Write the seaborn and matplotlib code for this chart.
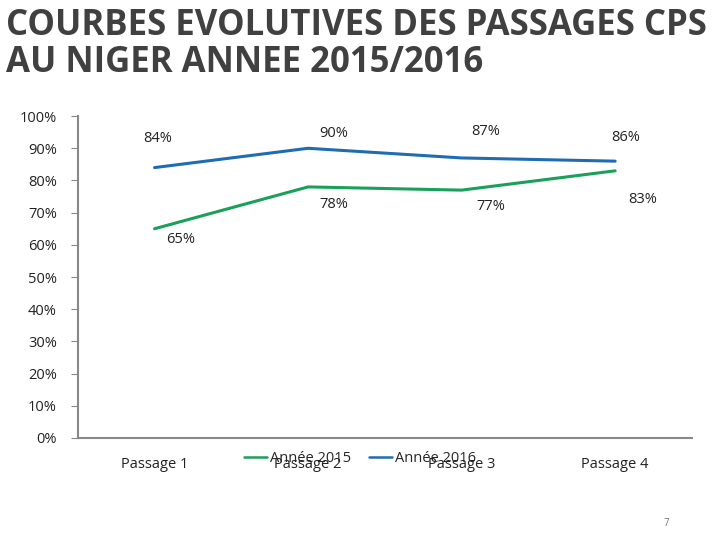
import numpy as np
import pandas as pd
import matplotlib.pyplot as plt
import seaborn as sns

# données
passages = ["Passage 1", "Passage 2", "Passage 3", "Passage 4"]
annee_2015 = [65, 78, 77, 83]
annee_2016 = [84, 90, 87, 86]
series = ["Année 2015", "Année 2016"]
couleurs = ["#1aa05a", "#1f6db0"]
y_ticks = [0, 10, 20, 30, 40, 50, 60, 70, 80, 90, 100]

df = pd.DataFrame({
    "passage": passages * 2,
    "x": list(range(len(passages))) * 2,
    "valeur": annee_2015 + annee_2016,
    "serie": [series[0]] * 4 + [series[1]] * 4,
})

sns.set_style("white")
plt.rcParams['font.family'] = ['Open Sans', 'DejaVu Sans']

fig = plt.figure(figsize=(7.2, 5.4), dpi=100)
ax = fig.add_axes([0.108, 0.189, 0.853, 0.596])

sns.lineplot(data=df, x="x", y="valeur", hue="serie", hue_order=series,
             palette=couleurs, linewidth=2.2, ax=ax, legend=True)

# position des étiquettes (décalage en pixels)
decal_2015 = [(26, -11), (26, -18), (29, -16), (28, -29)]
decal_2016 = [(3, 29), (26, 15), (24, 26), (11, 24)]
for vals, decs in [(annee_2015, decal_2015), (annee_2016, decal_2016)]:
    for i, (v, d) in enumerate(zip(vals, decs)):
        ax.annotate(f"{v}%", (i, v), xytext=d, textcoords="offset pixels",
                    ha="center", va="center", fontsize=10.5, color="#222222")

ax.set_xlim(-0.5, 3.5)
ax.set_ylim(0, 100)
ax.set_yticks(y_ticks)
ax.set_yticklabels([f"{t}%" for t in y_ticks], fontsize=10.5, color="#222222")
ax.set_xticks(range(4))
ax.set_xticklabels(passages, fontsize=10.5, color="#222222")
ax.set_xticks([-0.5, 0.5, 1.5, 2.5, 3.5], minor=True)
ax.tick_params(axis="x", which="major", length=0, pad=14)
ax.tick_params(axis="x", which="minor", length=5, color="#888888", direction="out")
ax.tick_params(axis="y", length=5, color="#888888", direction="out", left=True, pad=10)
ax.set_xlabel("")
ax.set_ylabel("")
for s in ["top", "right"]:
    ax.spines[s].set_visible(False)
for s in ["left", "bottom"]:
    ax.spines[s].set_color("#888888")
    ax.spines[s].set_linewidth(1.5)

leg = ax.legend(loc="center", bbox_to_anchor=(0.5, 0.150), bbox_transform=fig.transFigure,
                ncol=2, frameon=False, fontsize=10.5, handlelength=1.6, handletextpad=0.2,
                columnspacing=1.2)
for h in leg.get_lines():
    h.set_linewidth(1.8)

fig.text(0.008, 0.985, "COURBES EVOLUTIVES DES PASSAGES CPS\nAU NIGER ANNEE 2015/2016",
         ha="left", va="top", fontsize=25, fontweight="bold", color="#404040",
         linespacing=1.05)
fig.text(0.926, 0.025, "7", fontsize=7, color="#777777", ha="center")

fig.savefig("out.png", dpi=100)
